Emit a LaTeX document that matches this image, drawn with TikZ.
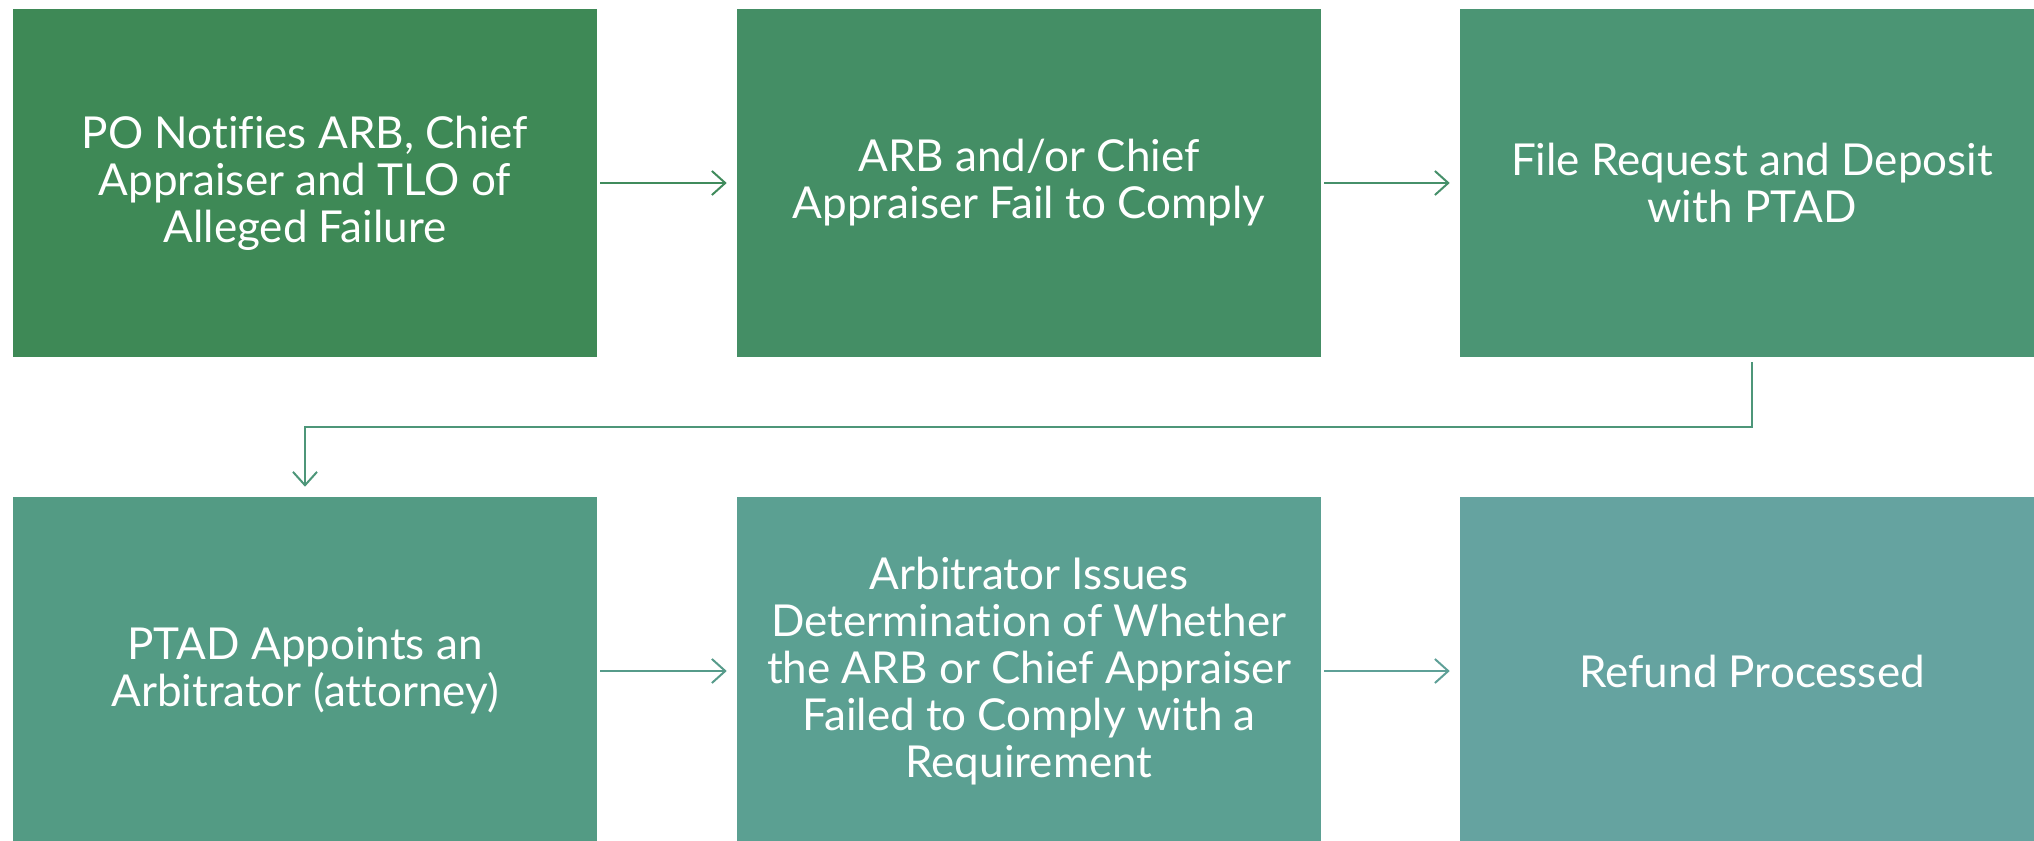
\documentclass[tikz,border=0pt]{standalone}
\usepackage{fontspec}
\setmainfont[Ligatures={NoCommon}]{Lato}
\usetikzlibrary{arrows.meta}
\definecolor{c1}{HTML}{3E8956}
\definecolor{c2}{HTML}{448E65}
\definecolor{c3}{HTML}{4B9574}
\definecolor{c4}{HTML}{539B84}
\definecolor{c5}{HTML}{5BA092}
\definecolor{c6}{HTML}{65A3A0}
\definecolor{a1}{HTML}{408B5C}
\definecolor{a2}{HTML}{46906A}
\definecolor{a3}{HTML}{4D9679}
\definecolor{a4}{HTML}{569B8A}
\definecolor{a5}{HTML}{5EA097}
\begin{document}
\begin{tikzpicture}[x=0.75pt,y=-0.75pt,
  box/.style={rectangle, minimum width=438pt, minimum height=261pt, inner sep=0pt,
    text=white, align=center, font=\fontsize{33pt}{35.25pt}\selectfont},
  arr/.style={line width=1.5pt, -{Straight Barb[length=10pt,width=18pt]},
    shorten <=2.25pt, shorten >=7.5pt}]
\useasboundingbox (0,0) rectangle (2034,841);
\clip (0,0) rectangle (2034,841);
\node[box, fill=c1] (b1) at (305,183) {PO Notifies ARB, Chief\\Appraiser and TLO of\\Alleged Failure};
\node[box, fill=c2] (b2) at (1029,183) {ARB and/or Chief\\Appraiser Fail to Comply};
\node[box, fill=c3] (b3) at (1752,183) {File Request and Deposit\\with PTAD};
\node[box, fill=c4] (b4) at (305,671) {PTAD Appoints an\\Arbitrator (attorney)};
\node[box, fill=c5] (b5) at (1029,671) {Arbitrator Issues\\Determination of Whether\\the ARB or Chief Appraiser\\Failed to Comply with a\\Requirement};
\node[box, fill=c6] (b6) at (1752,671) {Refund Processed};
\draw[arr, a1] (b1) -- (b2);
\draw[arr, a2] (b2) -- (b3);
\draw[arr, a3, shorten <=0pt] ([yshift=-3.75pt]b3.south) -- ++(0,65) -| (b4.north);
\draw[arr, a4] (b4) -- (b5);
\draw[arr, a5] (b5) -- (b6);
\end{tikzpicture}
\end{document}
